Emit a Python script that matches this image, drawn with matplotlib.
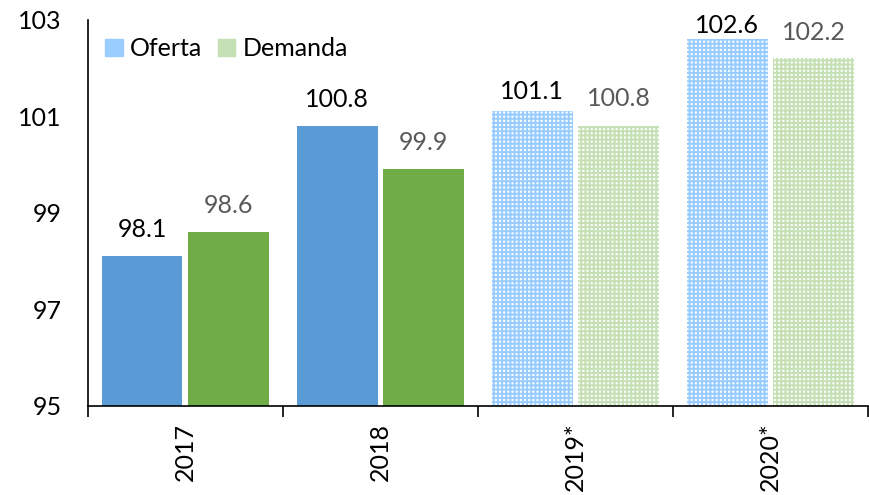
import matplotlib
matplotlib.use("Agg")
import matplotlib.pyplot as plt
import numpy as np
from matplotlib.patches import Patch

plt.rcParams['font.family'] = ['Lato', 'DejaVu Sans']
plt.rcParams['hatch.linewidth'] = 1.45

categories = ['2017', '2018', '2019*', '2020*']
oferta = [98.1, 100.8, 101.1, 102.6]
demanda = [98.6, 99.9, 100.8, 102.2]
projected = [False, False, True, True]

# label gaps (pixels) between bar top and label baseline, as in the reference
gap_oferta = [19, 19, 12, 6]
gap_demanda = [19, 19, 20, 18]

FS = 18
fig = plt.figure(figsize=(8.69, 4.95), dpi=100)
ax = fig.add_axes([0.101, 0.180, 0.898, 0.78])

x = np.arange(len(categories))
w = 0.415
off = 0.222
for i, (o, d, p) in enumerate(zip(oferta, demanda, projected)):
    if p:
        ax.bar(x[i] - off, o - 95, w, bottom=95, color='white', edgecolor='#99CCFF',
               linewidth=0, hatch='++++')
        ax.bar(x[i] + off, d - 95, w, bottom=95, color='white', edgecolor='#C5E0B4',
               linewidth=0, hatch='++++')
    else:
        ax.bar(x[i] - off, o - 95, w, bottom=95, color='#5B9BD5', linewidth=0)
        ax.bar(x[i] + off, d - 95, w, bottom=95, color='#70AD47', linewidth=0)
    ax.annotate(f'{o:.1f}', (x[i] - off, o), xytext=(0, gap_oferta[i]), textcoords='offset pixels',
                ha='center', va='baseline', fontsize=FS, color='#000000')
    ax.annotate(f'{d:.1f}', (x[i] + off, d), xytext=(0, gap_demanda[i]), textcoords='offset pixels',
                ha='center', va='baseline', fontsize=FS, color='#595959')

ax.set_ylim(95, 103)
ax.set_yticks([95, 97, 99, 101, 103])
ax.set_yticklabels(['95', '97', '99', '101', '103'], fontsize=FS)
ax.tick_params(axis='y', length=0, pad=19)
ax.set_xlim(-0.5, len(categories) - 0.5)
ax.set_xticks(x)
ax.set_xticklabels(categories, rotation=90, fontsize=FS)
ax.tick_params(axis='x', length=0, pad=12)
ax.set_xticks(np.arange(len(categories) + 1) - 0.5, minor=True)
ax.tick_params(axis='x', which='minor', length=8, width=1.2, color='#000000')
for s in ['top', 'right']:
    ax.spines[s].set_visible(False)
ax.spines['left'].set_linewidth(1.2)
ax.spines['bottom'].set_linewidth(1.2)

handles = [Patch(color='#99CCFF', label='Oferta'), Patch(color='#C5E0B4', label='Demanda')]
ax.legend(handles=handles, loc='upper left', bbox_to_anchor=(0.0, 1.0), ncol=2, frameon=False,
          fontsize=FS, handlelength=0.7, handleheight=0.7, handletextpad=0.3, columnspacing=0.6,
          borderaxespad=0.3)

fig.savefig('out.png', dpi=100)
